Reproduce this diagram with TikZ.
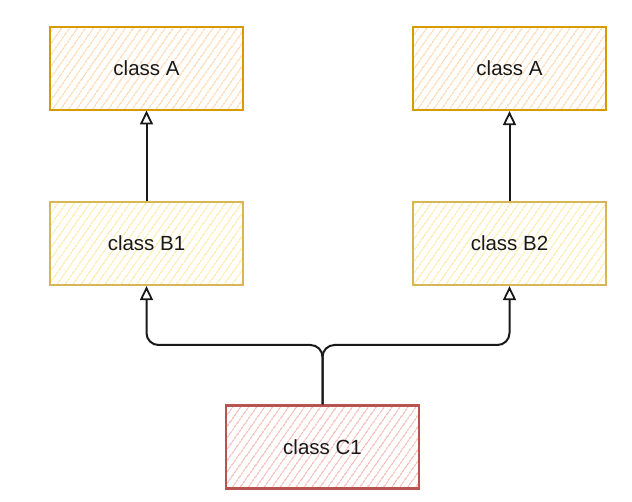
\documentclass[tikz,border=0pt]{standalone}
\usepackage{fontspec}
\setmainfont{Liberation Sans}
\usetikzlibrary{arrows.meta,patterns.meta}
\definecolor{aStroke}{HTML}{D79B00}
\definecolor{aFill}{HTML}{FFD4A8}
\definecolor{bStroke}{HTML}{D6B656}
\definecolor{bFill}{HTML}{FFE89E}
\definecolor{cStroke}{HTML}{B85450}
\definecolor{cFill}{HTML}{F4B4B0}
\tikzset{
  cls/.style={draw, line width=2.2pt, minimum width=193pt, minimum height=83pt,
    inner sep=0pt, font=\fontsize{20.5}{24}\selectfont, text=black!90},
  clsA/.style={cls, draw=aStroke, pattern={Lines[angle=55,distance=6.5pt,line width=1pt]}, pattern color=aFill},
  clsB/.style={cls, draw=bStroke, pattern={Lines[angle=55,distance=6.5pt,line width=1pt]}, pattern color=bFill},
  clsC/.style={cls, draw=cStroke, pattern={Lines[angle=55,distance=6.5pt,line width=1pt]}, pattern color=cFill},
  tipO/.tip={Triangle[open,length=14pt,width=13pt,line width=1.8pt]},
  conn/.style={draw=black!90, line width=2pt, -tipO},
}
\begin{document}
\begin{tikzpicture}[x=1pt,y=-1pt]
\useasboundingbox (0,0) rectangle (632,502);
\node[clsA] (a1) at (146.5,68.5) {class A};
\node[clsA] (a2) at (509.5,68.5) {class A};
\node[clsB] (b1) at (146.5,243.5) {class B1};
\node[clsB] (b2) at (509.5,243.5) {class B2};
\node[clsC] (c1) at (322.5,447) {class C1};
\coordinate (jl) at (b1.south |- 0,345);
\coordinate (jr) at (b2.south |- 0,345);
\draw[conn] (b1.north) -- (a1.south);
\draw[conn] (b2.north) -- (a2.south);
\draw[conn, rounded corners=12pt] (c1.north) |- (jl) -- (b1.south);
\draw[conn, rounded corners=12pt] (c1.north) |- (jr) -- (b2.south);
\end{tikzpicture}
\end{document}
